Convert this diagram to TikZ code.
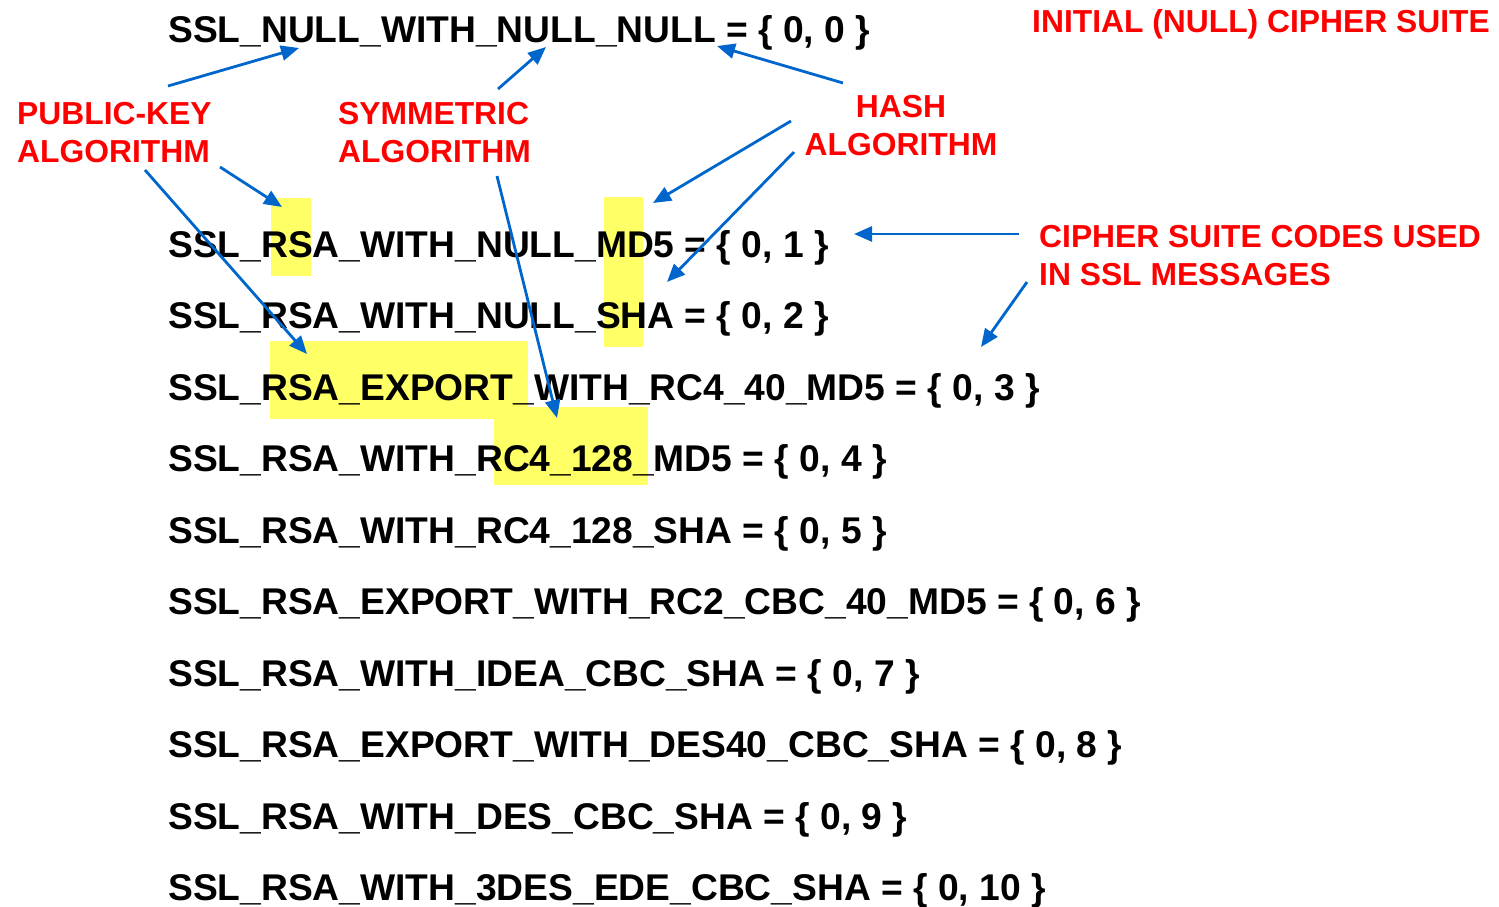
\documentclass[tikz,border=0pt]{standalone}
\usepackage{fontspec}
\setmainfont{Liberation Sans}
\usetikzlibrary{arrows.meta,positioning}
\definecolor{hlyellow}{RGB}{255,255,102}
\definecolor{ptrblue}{RGB}{0,102,204}
\definecolor{notered}{RGB}{255,0,0}

\begin{document}
\begin{tikzpicture}[x=1pt,y=-1pt,node distance=71.5pt,
   suite/.style={anchor=base west,inner sep=0pt,font=\fontsize{37.2}{44}\selectfont\bfseries},
   nextrow/.style={below=of #1.base west,anchor=base west},
   note/.style={anchor=base west,inner sep=0pt,align=left,text=notered,
                font=\fontsize{31.8}{38}\selectfont\bfseries},
   hilite/.style={anchor=north west,inner sep=0pt,fill=hlyellow},
   pointer/.style={draw=ptrblue,line width=2.8pt,-{Triangle[length=18pt,width=15pt]}}]
   \useasboundingbox (0,0) rectangle (1499,906);

   % highlights behind the text
   \node[hilite,minimum width=40pt,minimum height=78pt]  (hl_rsa)  at (271,198) {};
   \node[hilite,minimum width=39pt,minimum height=150pt] (hl_hash) at (604,197) {};
   \node[hilite,minimum width=258pt,minimum height=78pt] (hl_exp)  at (270,341) {};
   \node[hilite,minimum width=154pt,minimum height=78pt] (hl_rc4)  at (494,407) {};

   % cipher suites
   \node[suite] (s_0) at (168,42) {SSL\_NULL\_WITH\_NULL\_NULL = \{ 0, 0 \}};
   \node[suite] (s_1) at (168,257) {SSL\_RSA\_WITH\_NULL\_MD5 = \{ 0, 1 \}};
   \node[suite,nextrow=s_1] (s_2) {SSL\_RSA\_WITH\_NULL\_SHA = \{ 0, 2 \}};
   \node[suite,nextrow=s_2] (s_3) {SSL\_RSA\_EXPORT\_WITH\_RC4\_40\_MD5 = \{ 0, 3 \}};
   \node[suite,nextrow=s_3] (s_4) {SSL\_RSA\_WITH\_RC4\_128\_MD5 = \{ 0, 4 \}};
   \node[suite,nextrow=s_4] (s_5) {SSL\_RSA\_WITH\_RC4\_128\_SHA = \{ 0, 5 \}};
   \node[suite,nextrow=s_5] (s_6) {SSL\_RSA\_EXPORT\_WITH\_RC2\_CBC\_40\_MD5 = \{ 0, 6 \}};
   \node[suite,nextrow=s_6] (s_7) {SSL\_RSA\_WITH\_IDEA\_CBC\_SHA = \{ 0, 7 \}};
   \node[suite,nextrow=s_7] (s_8) {SSL\_RSA\_EXPORT\_WITH\_DES40\_CBC\_SHA = \{ 0, 8 \}};
   \node[suite,nextrow=s_8] (s_9) {SSL\_RSA\_WITH\_DES\_CBC\_SHA = \{ 0, 9 \}};
   \node[suite,nextrow=s_9] (s_10) {SSL\_RSA\_WITH\_3DES\_EDE\_CBC\_SHA = \{ 0, 10 \}};

   % red notes (base = last line)
   \node[note] (initial) at (1032,32) {INITIAL (NULL) CIPHER SUITE};
   \node[note] (pubkey) at (17,162) {PUBLIC-KEY\\ALGORITHM};
   \node[note] (symm) at (338,162) {SYMMETRIC\\ALGORITHM};
   \node[note,anchor=base,align=center] (hash) at (901,155) {HASH\\ALGORITHM};
   \node[note] (codes) at (1039,285) {CIPHER SUITE CODES USED\\IN SSL MESSAGES};

   % arrow ends
   \coordinate (pk_a) at (168,86);   \coordinate (pk_a_end) at (299,48);
   \coordinate (pk_b) at (220,167);  \coordinate (pk_b_end) at (282,207);
   \coordinate (pk_c) at (145,170);  \coordinate (pk_c_end) at (307,354);
   \coordinate (sy_a) at (498,89);   \coordinate (sy_a_end) at (546,47);
   \coordinate (sy_b) at (497,176);  \coordinate (sy_b_end) at (557,418);
   \coordinate (ha_a) at (843,83);   \coordinate (ha_a_end) at (717,46);
   \coordinate (ha_b) at (791,121);  \coordinate (ha_b_end) at (653,203);
   \coordinate (ha_c) at (794,152);  \coordinate (ha_c_end) at (667,282);
   \coordinate (co_a) at (1019,234); \coordinate (co_a_end) at (854,234);
   \coordinate (co_b) at (1027,282); \coordinate (co_b_end) at (981,347);

   \draw[pointer] (pk_a) -- (pk_a_end);
   \draw[pointer] (pk_b) -- (pk_b_end);
   \draw[pointer] (pk_c) -- (pk_c_end);
   \draw[pointer] (sy_a) -- (sy_a_end);
   \draw[pointer] (sy_b) -- (sy_b_end);
   \draw[pointer] (ha_a) -- (ha_a_end);
   \draw[pointer] (ha_b) -- (ha_b_end);
   \draw[pointer] (ha_c) -- (ha_c_end);
   \draw[pointer] (co_a) -- (co_a_end);
   \draw[pointer] (co_b) -- (co_b_end);
\end{tikzpicture}
\end{document}
